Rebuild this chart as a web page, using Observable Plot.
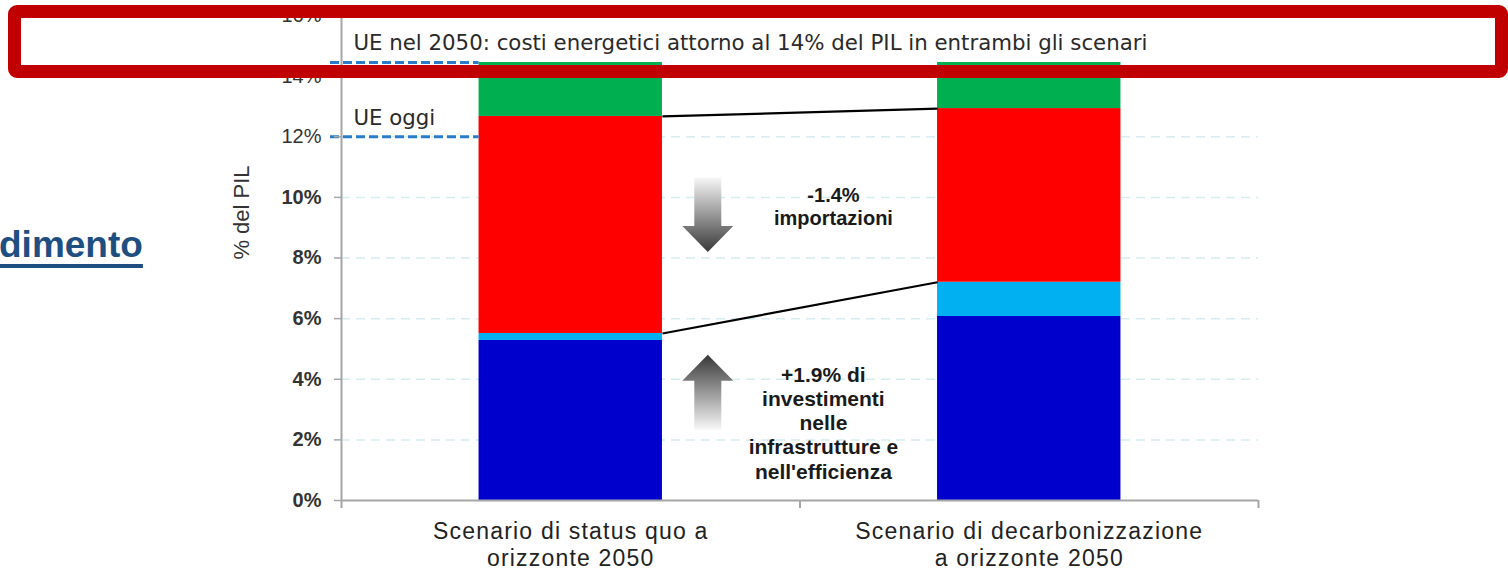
<!DOCTYPE html>
<html>
<head>
<meta charset="utf-8">
<script src="https://cdn.jsdelivr.net/npm/d3@7"></script>
<script src="https://cdn.jsdelivr.net/npm/@observablehq/plot@0.6"></script>
<style>
  html, body { margin: 0; padding: 0; background: #fff; overflow: hidden; width: 1508px; height: 570px; }
  #wrap { position: relative; width: 1508px; height: 570px; }
  #wrap svg { display: block; position: absolute; left: 0; top: 0; }
  #box { position: absolute; left: 8px; top: 5px; width: 1474px; height: 47px; border: 13px solid #c00000; border-radius: 9px; z-index: 5; pointer-events: none; }
  #side { position: absolute; left: -1px; top: 224px; line-height: 1; font: bold 37px "Liberation Sans", Arial, sans-serif; color: #1f4e80; text-decoration: underline; text-decoration-thickness: 4px; text-underline-offset: 7px; z-index: 4; }
</style>
</head>
<body>
<div id="wrap">
  <div id="side">dimento</div>
  <div id="box"></div>
</div>
<script>
// ---------- data ----------
const scenarios = ["Scenario di status quo a orizzonte 2050", "Scenario di decarbonizzazione a orizzonte 2050"];
const scenarioLines1 = ["Scenario di status quo a", "Scenario di decarbonizzazione"];
const scenarioLines2 = ["orizzonte 2050", "a orizzonte 2050"];
const components = ["Investimenti", "Efficienza", "Importazioni", "Altri costi"];
const componentColors = ["#0000cc", "#00b0f0", "#ff0000", "#00b050"];
// values (% del PIL) per component, [status quo, decarbonizzazione]
const investimenti = [5.28, 6.07];
const efficienza = [0.23, 1.13];
const importazioni = [7.16, 5.73];
const altri = [1.78, 1.52];
const seriesValues = [investimenti, efficienza, importazioni, altri];
const yTicks = [0, 2, 4, 6, 8, 10, 12, 14, 16];
const ueOggi = 12;
const ue2050 = 14.45;
const refLabels = [
  {text: "UE oggi", x: 0.026, y: 12.6},
  {text: "UE nel 2050: costi energetici attorno al 14% del PIL in entrambi gli scenari", x: 0.026, y: 15.1}
];
const notes = [
  {text: "-1.4%\nimportazioni", x: 1.073, y: 9.7},
  {text: "+1.9% di\ninvestimenti\nnelle\ninfrastrutture e\nnell'efficienza", x: 1.051, y: 2.58}
];
const arrows = [
  {x: 0.80, from: 10.63, to: 8.18},
  {x: 0.80, from: 2.31, to: 4.79}
];

// ---------- derived ----------
const positions = [0.5, 1.5];   // category centres on the x scale
const barHalf = 0.2;
const rows = [];
const tops = scenarios.map(() => ({}));
scenarios.forEach((s, i) => {
  let acc = 0;
  components.forEach((c, j) => {
    const v = seriesValues[j][i];
    rows.push({scenario: s, pos: positions[i], component: c, y1: acc, y2: acc + v});
    tops[i][c] = [acc, acc + v];
    acc += v;
  });
});
const links = [
  {x1: positions[0] + barHalf, y1: tops[0]["Importazioni"][1], x2: positions[1] - barHalf, y2: tops[1]["Importazioni"][1]},
  {x1: positions[0] + barHalf, y1: tops[0]["Importazioni"][0], x2: positions[1] - barHalf, y2: tops[1]["Importazioni"][0]}
];
const refs = [ueOggi, ue2050];
const xlab = positions.map((p, i) => ({x: p, l1: scenarioLines1[i], l2: scenarioLines2[i]}));

const sans = "'Liberation Sans', Arial, sans-serif";
const verd = "'DejaVu Sans', Verdana, sans-serif";
const gray = "#a6a6a6";

function arrowMark(index, scales, values, dimensions, context) {
  const x = scales.x, y = scales.y;
  const g = d3.create("svg:g");
  const defs = g.append("defs");
  arrows.forEach((a, i) => {
    const down = a.to < a.from;
    const grad = defs.append("linearGradient").attr("id", "arrowgrad" + i)
      .attr("x1", 0).attr("y1", 0).attr("x2", 0).attr("y2", 1);
    grad.append("stop").attr("offset", "0%").attr("stop-color", down ? "#f6f6f6" : "#383838");
    grad.append("stop").attr("offset", "100%").attr("stop-color", down ? "#383838" : "#f8f8f8");
    const cx = x(a.x), y0 = y(a.from), y1 = y(a.to);
    const dir = Math.sign(y1 - y0);
    const headLen = 26, hw = 25.5, sw = 13.5;
    const yb = y1 - dir * headLen;
    const pts = [[cx - sw, y0], [cx + sw, y0], [cx + sw, yb], [cx + hw, yb], [cx, y1], [cx - hw, yb], [cx - sw, yb]];
    g.append("path").attr("d", "M" + pts.map(p => p.join(",")).join("L") + "Z")
      .attr("fill", "url(#arrowgrad" + i + ")");
  });
  return g.node();
}

const chart = Plot.plot({
  width: 1508,
  height: 570,
  marginLeft: 341,
  marginRight: 250,
  marginTop: 15,
  marginBottom: 70,
  x: {domain: [0, 2], axis: null},
  y: {domain: [0, 16], axis: null},
  color: {domain: components, range: componentColors},
  style: {fontFamily: sans, color: "#333", background: "transparent", overflow: "visible"},
  marks: [
    Plot.ruleY(yTicks.filter(d => d > 0), {x1: 0, x2: 2, stroke: "#d4eef2", strokeWidth: 1.5, strokeDasharray: "9,6"}),
    Plot.rect(rows, {x1: d => d.pos - barHalf, x2: d => d.pos + barHalf, y1: "y1", y2: "y2", fill: "component"}),
    Plot.link(links, {x1: "x1", y1: "y1", x2: "x2", y2: "y2", stroke: "#000", strokeWidth: 2.2}),
    Plot.ruleY(refs, {x1: -0.024, x2: positions[0] - barHalf, stroke: "#2a7cc9", strokeWidth: 3, strokeDasharray: "9,4"}),
    Plot.ruleX([0], {y1: 0, y2: 16, stroke: gray, strokeWidth: 2}),
    Plot.ruleY([0], {x1: 0, x2: 2, stroke: gray, strokeWidth: 2}),
    Plot.axisX({ticks: [0, 1, 2], tickSize: 8, tickFormat: () => "", stroke: gray, strokeWidth: 2, fill: "none", label: null}),
    Plot.axisY({ticks: yTicks.filter(d => d <= 10), tickSize: 7, tickPadding: 13, tickFormat: d => d + "%", stroke: gray, strokeWidth: 1.5, fill: "#333", fontSize: 20, fontWeight: "bold", fontFamily: sans, label: null}),
    Plot.axisY({ticks: yTicks.filter(d => d > 10), tickSize: 7, tickPadding: 13, tickFormat: d => d + "%", stroke: gray, strokeWidth: 1.5, fill: "#333", fontSize: 20, fontFamily: sans, label: null}),
    Plot.text(["% del PIL"], {x: 0, y: 9.5, dx: -100, rotate: -90, text: d => d, fontSize: 22, fontFamily: sans, fill: "#333"}),
    Plot.text(xlab, {x: "x", y: 0, dy: 31, text: "l1", fontSize: 23, fontFamily: sans, fill: "#222"}),
    Plot.text(xlab, {x: "x", y: 0, dy: 58, text: "l2", fontSize: 23, fontFamily: sans, fill: "#222"}),
    Plot.text(refLabels, {x: "x", y: "y", text: "text", textAnchor: "start", fontSize: 21.3, fontFamily: verd, fill: "#2a2a2a"}),
    Plot.text(notes.slice(0, 1), {x: "x", y: "y", text: "text", fontSize: 20, fontWeight: "bold", lineHeight: 1.15, fontFamily: sans, fill: "#1a1a1a"}),
    Plot.text(notes.slice(1), {x: "x", y: "y", text: "text", fontSize: 21, fontWeight: "bold", lineHeight: 1.155, fontFamily: sans, fill: "#1a1a1a"}),
    arrowMark
  ]
});
// slightly wider letter spacing for the category labels, as in the original slide
chart.querySelectorAll('g[font-size="23"]').forEach(g => g.setAttribute("letter-spacing", "1.2"));
document.getElementById("wrap").prepend(chart);
</script>
</body>
</html>
